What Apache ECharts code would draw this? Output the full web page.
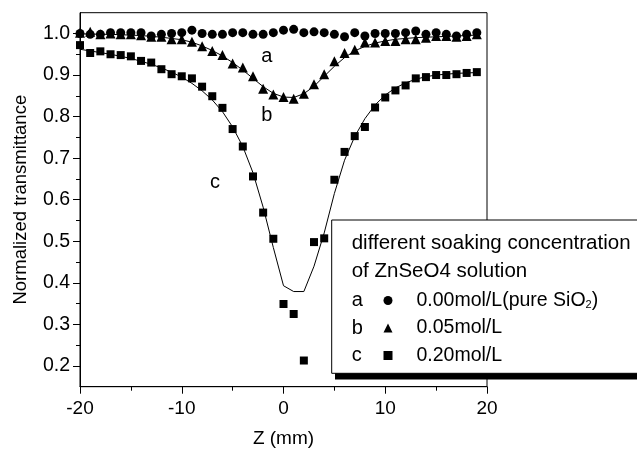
<!DOCTYPE html>
<html><head><meta charset="utf-8">
<script src="https://cdn.jsdelivr.net/npm/echarts@6/dist/echarts.min.js"></script>
<style>html,body{margin:0;padding:0;background:#fff}#c{width:637px;height:455px}</style>
</head><body><div id="c"></div>
<script>
var zValues = [-20,-19,-18,-17,-16,-15,-14,-13,-12,-11,-10,-9,-8,-7,-6,-5,-4,-3,-2,-1,0,1,2,3,4,5,6,7,8,9,10,11,12,13,14,15,16,17,18,19];
var seriesA = [1.000,0.998,0.998,1.002,1.002,1.002,1.002,0.994,0.998,1.000,1.002,1.008,1.000,0.998,0.998,1.002,1.002,0.998,0.998,1.002,1.008,1.010,1.002,1.004,1.002,0.998,0.992,1.002,0.994,1.000,1.000,1.000,1.002,1.006,0.998,1.002,0.998,0.994,0.998,1.002];
var seriesB = [1.002,1.004,0.998,1.000,0.998,0.998,0.996,0.992,0.992,0.986,0.986,0.980,0.969,0.958,0.948,0.928,0.918,0.897,0.867,0.853,0.847,0.843,0.855,0.878,0.902,0.933,0.953,0.961,0.978,0.978,0.982,0.982,0.986,0.986,0.990,0.994,0.994,0.992,0.994,0.998];
var seriesC = [0.972,0.953,0.957,0.950,0.948,0.945,0.934,0.930,0.914,0.902,0.897,0.892,0.872,0.849,0.821,0.770,0.728,0.656,0.569,0.506,0.349,0.325,0.213,0.498,0.507,0.648,0.715,0.753,0.775,0.822,0.846,0.863,0.875,0.892,0.895,0.900,0.900,0.902,0.905,0.907];
var fitB = [0.999,0.999,0.998,0.998,0.997,0.996,0.995,0.993,0.991,0.988,0.985,0.979,0.970,0.959,0.946,0.930,0.912,0.892,0.872,0.856,0.847,0.846,0.855,0.873,0.897,0.921,0.942,0.958,0.969,0.977,0.982,0.986,0.988,0.990,0.991,0.992,0.993,0.994,0.995,0.996];
var fitC = [0.962,0.958,0.954,0.950,0.945,0.940,0.933,0.926,0.917,0.907,0.895,0.880,0.862,0.840,0.812,0.775,0.728,0.665,0.582,0.485,0.393,0.379,0.379,0.440,0.520,0.615,0.695,0.752,0.795,0.828,0.852,0.869,0.881,0.890,0.896,0.900,0.902,0.904,0.905,0.906];
var yMajorTicks = [0.2,0.3,0.4,0.5,0.6,0.7,0.8,0.9,1.0];
var yMinorTicks = [0.25,0.35,0.45,0.55,0.65,0.75,0.85,0.95];
var seriesNames = ['0.00mol/L(pure SiO2)','0.05mol/L','0.20mol/L'];
var seriesLetters = ['a','b','c'];
var curveLabels = [[-1.64,0.944,'a'],[-1.64,0.803,'b'],[-6.73,0.642,'c']];
var legendTitle = ['different soaking concentration','of ZnSeO4 solution'];

function pairs(ys){return zValues.map(function(x,i){return [x,ys[i]];});}
var FONT = 'Liberation Sans, Arial, sans-serif';
var chart = echarts.init(document.getElementById('c'));
var option = {
  animation:false,
  backgroundColor:'#fff',
  textStyle:{fontFamily:FONT,color:'#000'},
  grid:{left:80,right:150,top:12.7,bottom:68.3,show:true,borderColor:'#000',borderWidth:1,backgroundColor:'transparent'},
  xAxis:{type:'value',min:-20,max:20,interval:10,
    name:'Z (mm)',nameLocation:'middle',nameGap:43,nameTextStyle:{fontSize:19,color:'#000',fontFamily:FONT},
    axisLine:{onZero:false,lineStyle:{color:'#000',width:1}},
    axisTick:{inside:false,length:7,lineStyle:{color:'#000'}},
    minorTick:{show:true,splitNumber:2,length:4,lineStyle:{color:'#000'}},
    splitLine:{show:false},
    axisLabel:{fontSize:19,color:'#000',margin:13,fontFamily:FONT}},
  yAxis:[{type:'value',min:0.15,max:1.05,
    name:'Normalized transmittance',nameLocation:'middle',nameGap:50,nameTextStyle:{fontSize:18.5,color:'#000',fontFamily:FONT},
    axisLine:{show:true,onZero:false,lineStyle:{color:'#000',width:1}},
    axisTick:{show:true,inside:false,length:7,customValues:yMajorTicks,lineStyle:{color:'#000'}},
    splitLine:{show:false},
    axisLabel:{fontSize:19.5,color:'#000',margin:10,fontFamily:FONT,customValues:yMajorTicks,formatter:function(v){return v.toFixed(1);}}},
   {type:'value',min:0.15,max:1.05,position:'left',
    axisLine:{show:false,onZero:false},
    axisTick:{show:true,inside:false,length:4,customValues:yMinorTicks,lineStyle:{color:'#000'}},
    splitLine:{show:false},
    axisLabel:{show:false}}],
  legend:{data:seriesNames,orient:'vertical',left:383.5,top:290.5,padding:0,itemWidth:9,itemHeight:9,itemGap:7.5,z:30,
    backgroundColor:'transparent',
    textStyle:{fontSize:19.5,color:'#000',fontFamily:FONT,padding:[0,0,0,19],lineHeight:20,
      rich:{sub:{fontSize:11,verticalAlign:'bottom',lineHeight:20,fontFamily:FONT,color:'#000'}}},
    formatter:function(n){return n.replace('SiO2','SiO{sub|2}');},
    selectedMode:false},
  series:[
    {name:'fitB',type:'line',data:pairs(fitB),symbol:'none',lineStyle:{color:'#000',width:1},z:2,silent:true},
    {name:'fitC',type:'line',data:pairs(fitC),symbol:'none',lineStyle:{color:'#000',width:1},z:2,silent:true},
    {name:seriesNames[0],type:'scatter',data:pairs(seriesA),symbol:'circle',symbolSize:9,itemStyle:{color:'#000',opacity:1},z:3},
    {name:seriesNames[1],type:'scatter',data:pairs(seriesB),symbol:'triangle',symbolSize:10,itemStyle:{color:'#000',opacity:1},z:3},
    {name:seriesNames[2],type:'scatter',data:pairs(seriesC),symbol:'rect',symbolSize:8,itemStyle:{color:'#000',opacity:1},z:3},
    {name:'curveLabels',type:'scatter',data:curveLabels,symbolSize:0,silent:true,z:4,itemStyle:{opacity:1},
      label:{show:true,position:'inside',fontSize:20,color:'#000',fontFamily:FONT,formatter:function(p){return p.data[2];}}}
  ],
  graphic:[
    {type:'rect',z:10,shape:{x:335,y:373,width:310,height:6.5},style:{fill:'#000'}},
    {type:'rect',z:11,shape:{x:331.7,y:220,width:320,height:153.3},style:{fill:'#fff',stroke:'#000',lineWidth:1}},
    {type:'text',z:20,x:351.7,y:243,style:{text:legendTitle[0],fontSize:20.5,fill:'#000',fontFamily:FONT,verticalAlign:'middle'}},
    {type:'text',z:20,x:351.7,y:271.7,style:{text:legendTitle[1],fontSize:20.5,fill:'#000',fontFamily:FONT,verticalAlign:'middle'}},
    {type:'text',z:20,x:351.7,y:300.5,style:{text:seriesLetters[0],fontSize:20,fill:'#000',fontFamily:FONT,verticalAlign:'middle'}},
    {type:'text',z:20,x:351.7,y:328,style:{text:seriesLetters[1],fontSize:20,fill:'#000',fontFamily:FONT,verticalAlign:'middle'}},
    {type:'text',z:20,x:351.7,y:355.5,style:{text:seriesLetters[2],fontSize:20,fill:'#000',fontFamily:FONT,verticalAlign:'middle'}}
  ]
};
chart.setOption(option);
</script></body></html>
